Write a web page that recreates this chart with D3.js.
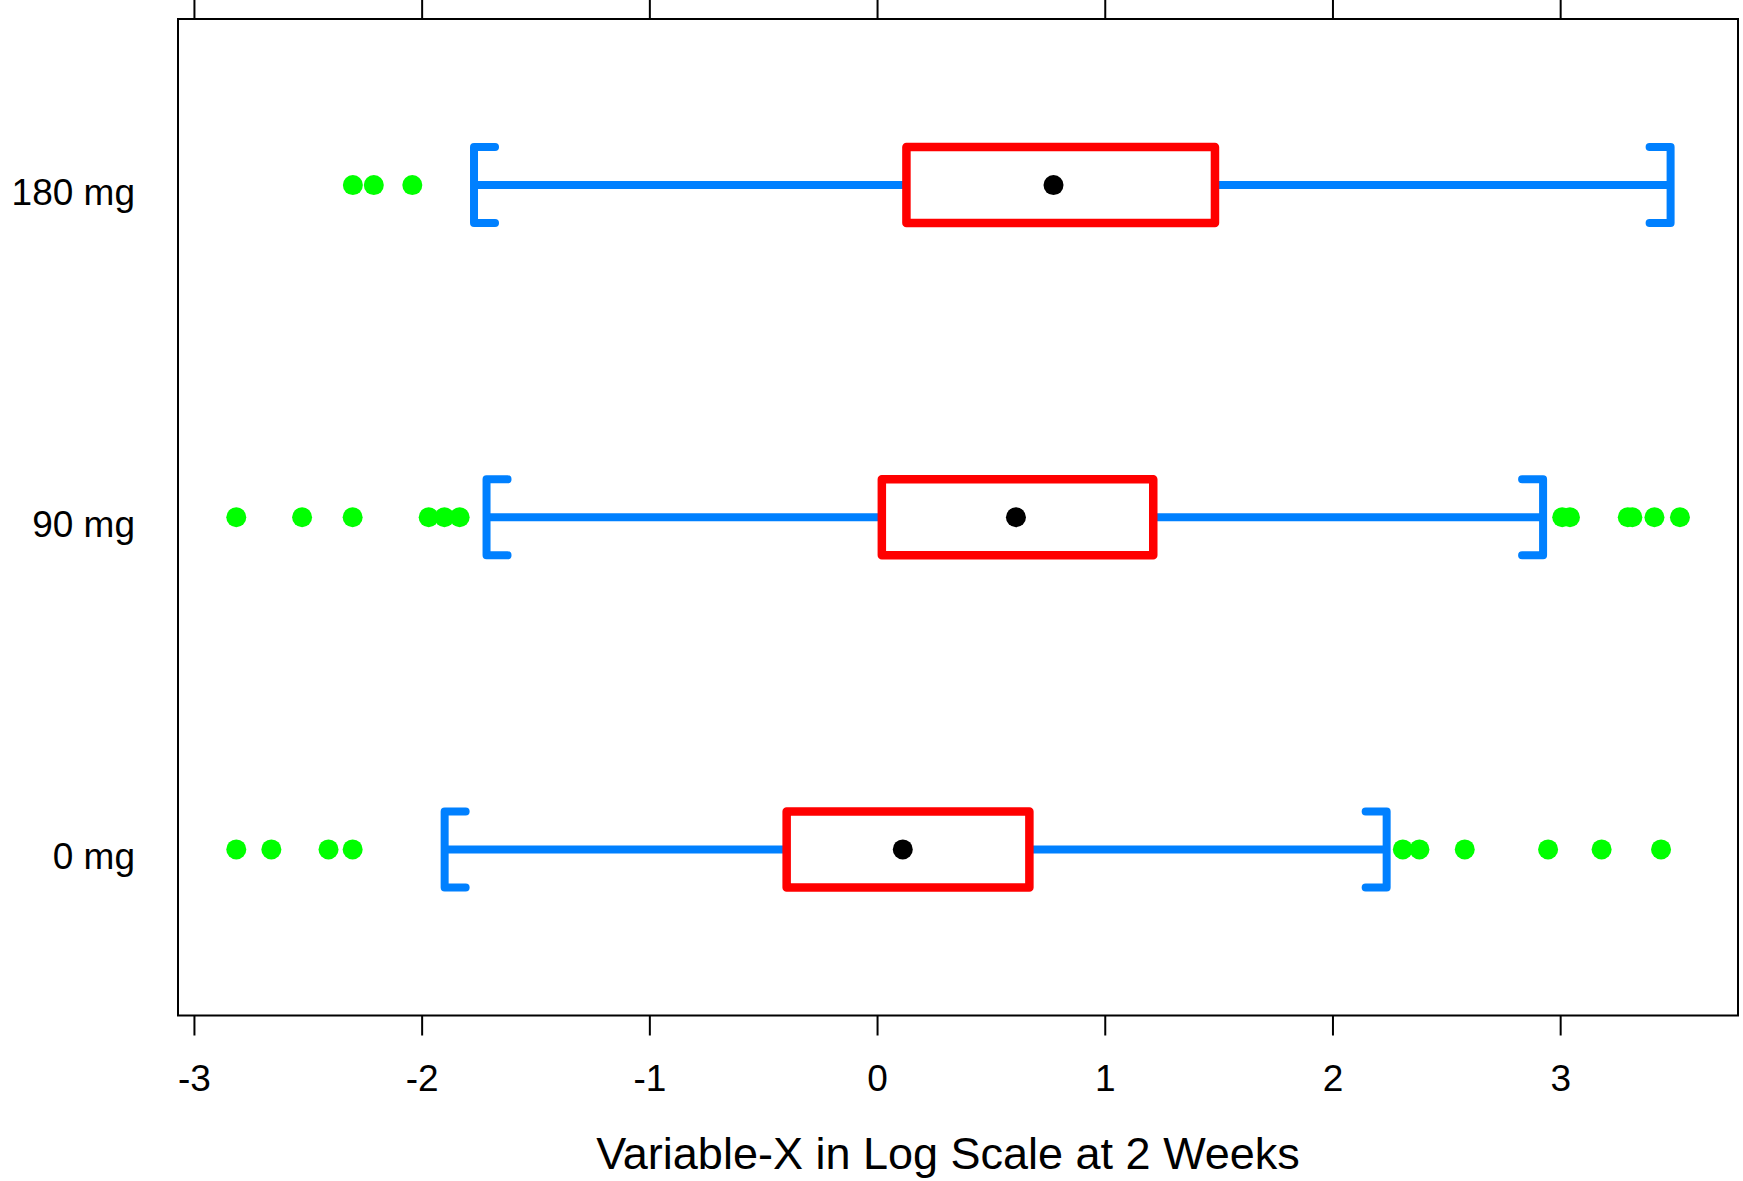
<!DOCTYPE html>
<html>
<head>
<meta charset="utf-8">
<script src="https://cdn.jsdelivr.net/npm/d3@7"></script>
<style>
  html, body { margin: 0; padding: 0; background: #fff; }
  svg { display: block; font-family: "Liberation Sans", Arial, sans-serif; }
</style>
</head>
<body>
<svg id="chart" width="1743" height="1181"></svg>
<script>
// ---- data ----
const categories = ["0 mg", "90 mg", "180 mg"];
const q1Values = [-0.397, 0.021, 0.129];
const q3Values = [0.669, 1.213, 1.484];
const centerValues = [0.113, 0.610, 0.775];
const whiskerLow = [-1.899, -1.715, -1.770];
const whiskerHigh = [2.238, 2.925, 3.485];
const outliers0 = [-2.814, -2.660, -2.409, -2.303, 2.309, 2.382, 2.581, 2.947, 3.182, 3.443];
const outliers90 = [-2.814, -2.525, -2.303, -1.969, -1.900, -1.833, 3.009, 3.043, 3.297, 3.317, 3.414, 3.526];
const outliers180 = [-2.302, -2.210, -2.041];
const xTicks = [-3, -2, -1, 0, 1, 2, 3];
const xTickLabels = ["-3", "-2", "-1", "0", "1", "2", "3"];
const xTitle = "Variable-X in Log Scale at 2 Weeks";

(function () {
const outlierSets = [outliers0, outliers90, outliers180];
const rows = categories.map((c, i) => ({
  cat: c, q1: q1Values[i], q3: q3Values[i], center: centerValues[i],
  lo: whiskerLow[i], hi: whiskerHigh[i], out: outlierSets[i]
}));

// ---- layout ----
const L = 178, R = 1738, T = 19, B = 1015.5;
const svg = d3.select("#chart");

const x = d3.scaleLinear().domain([-3.07, 3.781]).range([L, R]);
const y = d3.scalePoint().domain(categories).range([B, T]).padding(0.5);

const boxHalf = 38, capLen = 21;
const blue = "#0080FF", red = "#FF0000", green = "#00FF00";

// axes
const axB = svg.append("g").attr("transform", `translate(0,${B})`)
  .call(d3.axisBottom(x).tickValues(xTicks).tickSize(20).tickPadding(29)
    .tickFormat((d, i) => xTickLabels[i]));
axB.select(".domain").remove();
axB.selectAll(".tick line").attr("stroke", "#000").attr("stroke-width", 2);
axB.selectAll(".tick text").attr("font-size", 37).attr("fill", "#000")
  .attr("font-family", "Liberation Sans, Arial, sans-serif");

const axT = svg.append("g").attr("transform", `translate(0,${T})`)
  .call(d3.axisTop(x).tickValues(xTicks).tickSize(20).tickFormat(""));
axT.select(".domain").remove();
axT.selectAll(".tick line").attr("stroke", "#000").attr("stroke-width", 2);

const axL = svg.append("g").attr("transform", `translate(${L},0)`)
  .call(d3.axisLeft(y).tickSize(0).tickPadding(43));
axL.select(".domain").remove();
axL.selectAll(".tick text").attr("font-size", 37).attr("fill", "#000")
  .attr("dy", "19px")
  .attr("font-family", "Liberation Sans, Arial, sans-serif");

// frame
svg.append("rect").attr("x", L).attr("y", T).attr("width", R - L).attr("height", B - T)
  .attr("fill", "none").attr("stroke", "#000").attr("stroke-width", 2);

const g = svg.append("g");
const rowG = g.selectAll("g.row").data(rows).join("g").attr("class", "row");

// whisker lines
rowG.append("line")
  .attr("x1", d => x(d.lo)).attr("x2", d => x(d.q1))
  .attr("y1", d => y(d.cat)).attr("y2", d => y(d.cat))
  .attr("stroke", blue).attr("stroke-width", 8);
rowG.append("line")
  .attr("x1", d => x(d.q3)).attr("x2", d => x(d.hi))
  .attr("y1", d => y(d.cat)).attr("y2", d => y(d.cat))
  .attr("stroke", blue).attr("stroke-width", 8);

// brackets
rowG.append("path")
  .attr("d", d => {
    const xl = x(d.lo), yc = y(d.cat);
    return `M${xl + capLen},${yc - boxHalf}L${xl},${yc - boxHalf}L${xl},${yc + boxHalf}L${xl + capLen},${yc + boxHalf}`;
  })
  .attr("fill", "none").attr("stroke", blue).attr("stroke-width", 8)
  .attr("stroke-linecap", "round").attr("stroke-linejoin", "round");
rowG.append("path")
  .attr("d", d => {
    const xh = x(d.hi), yc = y(d.cat);
    return `M${xh - capLen},${yc - boxHalf}L${xh},${yc - boxHalf}L${xh},${yc + boxHalf}L${xh - capLen},${yc + boxHalf}`;
  })
  .attr("fill", "none").attr("stroke", blue).attr("stroke-width", 8)
  .attr("stroke-linecap", "round").attr("stroke-linejoin", "round");

// box
rowG.append("rect")
  .attr("x", d => x(d.q1)).attr("width", d => x(d.q3) - x(d.q1))
  .attr("y", d => y(d.cat) - boxHalf).attr("height", 2 * boxHalf)
  .attr("fill", "none").attr("stroke", red).attr("stroke-width", 8.5)
  .attr("stroke-linejoin", "round");

// center dot
rowG.append("circle")
  .attr("cx", d => x(d.center)).attr("cy", d => y(d.cat)).attr("r", 10)
  .attr("fill", "#000");

// outliers
rowG.each(function (d) {
  d3.select(this).selectAll("circle.out").data(d.out).join("circle")
    .attr("class", "out")
    .attr("cx", v => x(v)).attr("cy", y(d.cat)).attr("r", 10)
    .attr("fill", green);
});

// x title
svg.append("text").attr("x", 948).attr("y", 1169).attr("text-anchor", "middle")
  .attr("font-size", 45).attr("fill", "#000").text(xTitle);
})();
</script>
</body>
</html>
